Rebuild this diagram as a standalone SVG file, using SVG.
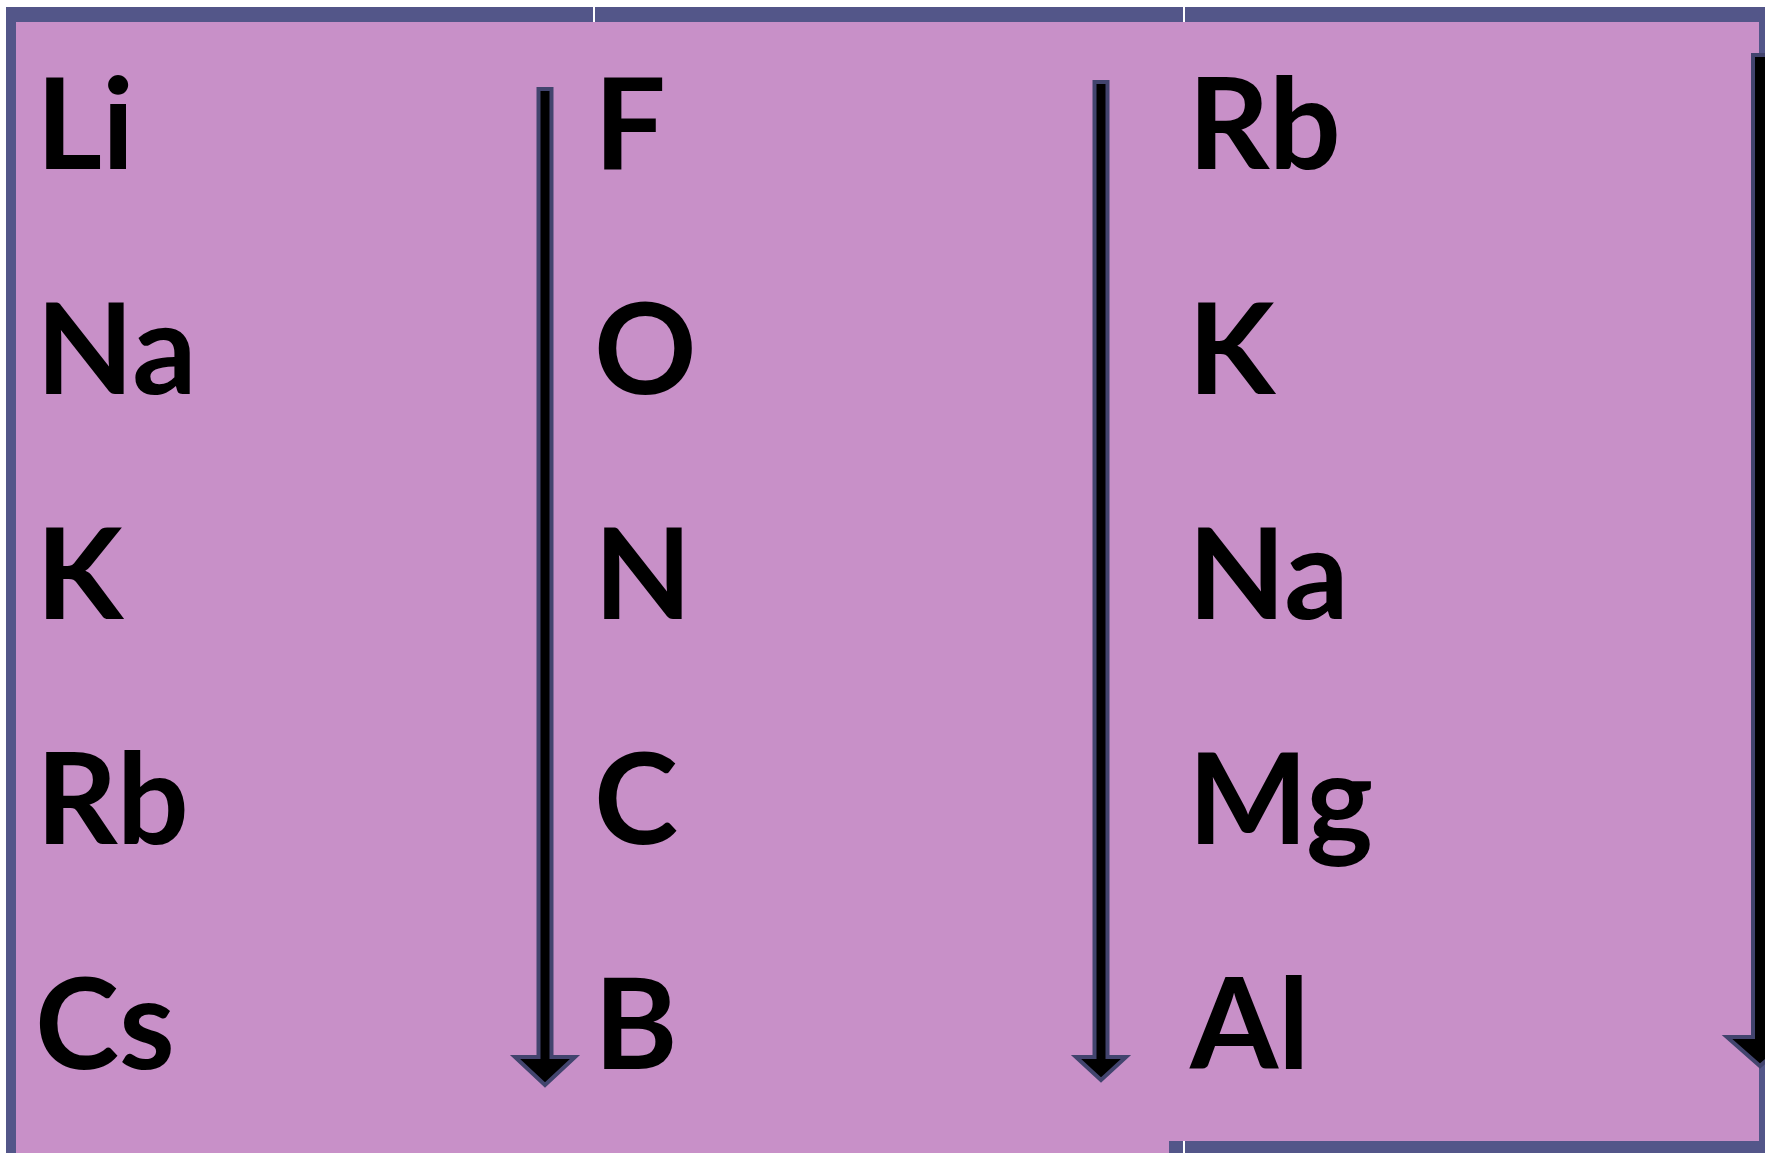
<svg xmlns="http://www.w3.org/2000/svg" width="1765" height="1153" viewBox="0 0 1765 1153">
<style>
.t{font-family:Lato,"Open Sans","Liberation Sans",sans-serif;font-weight:bold;font-size:127px;fill:#000}
.band{fill:#535689}
.gap{fill:#ffffff}
.arr{fill:#000;stroke:#42446e;stroke-width:4;stroke-linejoin:miter}
</style>
<rect x="0" y="0" width="1765" height="1153" fill="#ffffff"/>
<g id="frame">
<rect x="6" y="7" width="1759" height="1146" fill="#C890C8"/>
<rect class="band" x="6" y="7" width="1759" height="15"/>
<rect class="band" x="6" y="7" width="10" height="1146"/>
<rect class="band" x="1759" y="7" width="6" height="1146"/>
<rect class="band" x="1169" y="1141" width="596" height="12"/>
<rect class="gap" x="593" y="7" width="2" height="15"/>
<rect class="gap" x="1183" y="7" width="2" height="15"/>
<rect class="gap" x="1183" y="1141" width="2" height="12"/>
</g>
<g id="col1">
<text class="t" x="36" y="169">Li</text>
<text class="t" x="36" y="394">Na</text>
<text class="t" x="36" y="619">K</text>
<text class="t" x="36" y="844">Rb</text>
<text class="t" x="35" y="1069">Cs</text>
</g>
<g id="col2">
<text class="t" x="594" y="169">F</text>
<text class="t" x="594" y="394">O</text>
<text class="t" x="594" y="619">N</text>
<text class="t" x="594" y="844">C</text>
<text class="t" x="594" y="1069">B</text>
</g>
<g id="col3">
<text class="t" x="1188" y="169">Rb</text>
<text class="t" x="1188" y="394">K</text>
<text class="t" x="1188" y="619">Na</text>
<text class="t" x="1188" y="844">Mg</text>
<text class="t" x="1190" y="1069">Al</text>
</g>
<g id="connectors">
<path class="arr" d="M538.5,89 H551.5 V1057 H575 L545,1085 L515,1057 H538.5 Z"/>
<path class="arr" d="M1094.5,82 H1107.5 V1057 H1126 L1101,1080 L1076,1057 H1094.5 Z"/>
<path class="arr" d="M1753,55 H1767 V1037 H1793 L1760,1066 L1727,1037 H1753 Z"/>
</g>
</svg>
